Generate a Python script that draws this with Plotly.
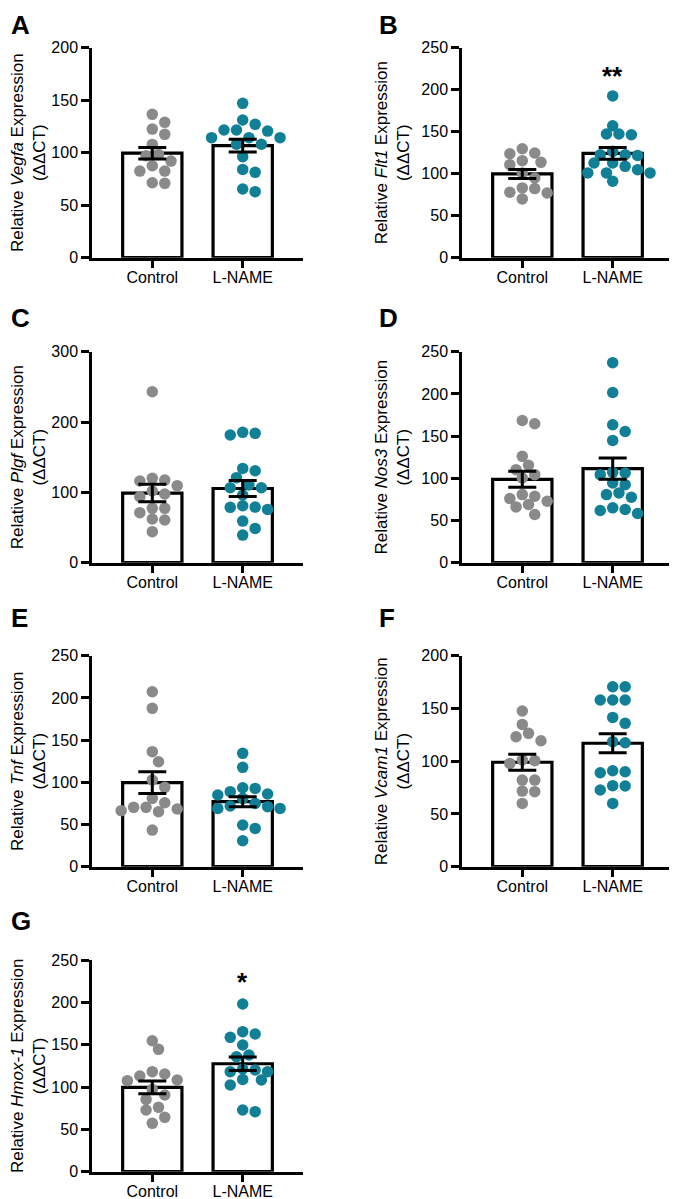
import plotly.graph_objects as go

W, H = 677, 1199

groups = ["Control", "L-NAME"]
letters = ["A", "B", "C", "D", "E", "F", "G"]
genes = ["Vegfa", "Flt1", "Plgf", "Nos3", "Tnf", "Vcam1", "Hmox-1"]
y_max = [200, 250, 300, 250, 250, 200, 250]
y_step = [50, 50, 100, 50, 50, 50, 50]
stars = ["", "**", "", "", "", "", "*"]
star_y = [0, 220, 0, 0, 0, 0, 228]

# individual animals
vegfa_ctrl = [136.5, 128.9, 122.5, 117.5, 107.9, 97.1, 98.4, 92, 87.6, 82.5, 82.5, 70.8, 71.4]
vegfa_lname = [147, 131.1, 121.6, 120.6, 127, 121.6, 114.3, 114.3, 108, 114.3, 108, 96.2, 81.3, 84.1, 62.9, 65.4]
flt1_ctrl = [115.5, 123.8, 129.7, 124.6, 113.5, 110.8, 94.9, 83.1, 77.1, 77.9, 82.3, 70, 100.9]
flt1_lname = [192.6, 157, 147.2, 147.2, 146.4, 126.6, 121.8, 122.6, 122.6, 108.8, 112.7, 112.7,
              104.8, 100.9, 100.9, 100.9, 91]
plgf_ctrl = [243.1, 117.5, 119.9, 109.5, 116.1, 97.6, 93.8, 101.9, 77.3, 77.3, 71.1, 62.1, 60.7, 44.1]
plgf_lname = [183.9, 181.5, 185.3, 134.1, 130.8, 120.9, 106.6, 106.6, 96.2, 110.4, 75.8, 81, 78.7,
              79.1, 59.2, 48.8, 39.3]
nos3_ctrl = [164.6, 168.5, 126, 110.2, 115.4, 104.3, 100.4, 80.7, 78.7, 68.9, 66.1, 72.8, 57.1, 76]
nos3_lname = [237, 201.6, 155.5, 163.4, 144.9, 104.3, 106.3, 107.1, 94.5, 92.5, 82.7, 77.6, 80.7,
              58.3, 65, 61.8, 63]
tnf_ctrl = [207.3, 187.6, 136.3, 124.4, 102.7, 94, 81, 70.3, 66.4, 70.3, 75.8, 65.2, 68.3, 43.4]
tnf_lname = [134.3, 117.7, 92.8, 93.6, 84.9, 86.1, 88.9, 71.1, 69.1, 81, 69.1, 71.9, 75, 49.4, 45.4, 30.8]
vcam1_ctrl = [147.6, 134.9, 126.4, 119.4, 123.2, 101.1, 97.9, 100.5, 82.1, 82.1, 71.7, 71.1, 60]
vcam1_lname = [170.6, 170.6, 158, 158, 158, 141.5, 135.9, 117.5, 118.5, 90, 91, 89.1, 76.5, 76.8, 72.7, 60]
hmox1_ctrl = [154.7, 144.5, 118.1, 107.5, 113, 115.4, 108.3, 97.2, 85.4, 90.6, 72.8, 76, 64.2, 57.1]
hmox1_lname = [198, 165.4, 162.6, 158.7, 149.6, 137.8, 135.8, 121.3, 118.1, 120.1, 118.1, 108.3, 109,
               102.4, 70.9, 72.8]

# bar heights (mean) and SEM, control / L-NAME
means = [[99.5, 106.7], [99.7, 124.3], [99, 105.5], [98.8, 111.5],
         [99.6, 77], [99, 117], [99.5, 127.5]]
sems = [[5.5, 6], [5.3, 7], [12.5, 11.5], [9.5, 12.5],
        [12.8, 6], [7.5, 9], [7.5, 8]]

points = [(vegfa_ctrl, vegfa_lname), (flt1_ctrl, flt1_lname), (plgf_ctrl, plgf_lname),
          (nos3_ctrl, nos3_lname), (tnf_ctrl, tnf_lname), (vcam1_ctrl, vcam1_lname),
          (hmox1_ctrl, hmox1_lname)]

GRAY = "#8a8a8a"
TEAL = "#117f95"
FONT = "Liberation Sans, Arial, sans-serif"

# layout in window pixels; the page body adds an 8 px offset, so take it off here
OFF = 8
col_x = [(92, 303), (462, 673)]
row_y = [(47.7, 257.7), (351.7, 562.7), (655.7, 866.7), (960, 1171.7)]
label_y = [25, 318, 618, 921]
label_x = [8.5, 377]
PX_PER_CAT = 90.0


def swarm(values, px_per_unit, step=6.2, dmin=10.2):
    order = sorted(range(len(values)), key=lambda i: -values[i])
    cands = [0.0]
    for k in range(1, 30):
        cands += [k * step, -k * step]
    placed = []
    offs = [0.0] * len(values)
    for i in order:
        y = values[i] * px_per_unit
        for c in cands:
            if all((c - px) ** 2 + (y - py) ** 2 >= dmin ** 2 for px, py in placed):
                break
        placed.append((c, y))
        offs[i] = c / PX_PER_CAT
    return offs


fig = go.Figure()
annotations = []

for p in range(7):
    row, col = p // 2, p % 2
    ax = "" if p == 0 else str(p + 1)
    xref, yref = "x" + ax, "y" + ax
    x0, x1 = col_x[col][0] - OFF, col_x[col][1] - OFF
    top, bottom = row_y[row][0] - OFF, row_y[row][1] - OFF
    px_unit = (bottom - top) / y_max[p]

    fig.add_trace(go.Bar(
        x=[0, 1], y=means[p], width=0.656, xaxis=xref, yaxis=yref,
        marker=dict(color="white", line=dict(color="black", width=3.2)),
        showlegend=False, hoverinfo="skip",
    ))
    for g, color in enumerate([GRAY, TEAL]):
        vals = points[p][g]
        offs = swarm(vals, px_unit)
        fig.add_trace(go.Scatter(
            x=[g + o for o in offs], y=vals, mode="markers", xaxis=xref, yaxis=yref,
            marker=dict(color=color, size=11.5, line=dict(width=0)),
            cliponaxis=False, showlegend=False, hoverinfo="skip",
        ))
    fig.add_trace(go.Scatter(
        x=[0, 1], y=means[p], mode="markers", xaxis=xref, yaxis=yref,
        marker=dict(size=1, opacity=0),
        error_y=dict(type="data", array=sems[p], color="black", thickness=3, width=14),
        showlegend=False, hoverinfo="skip",
    ))

    axis_common = dict(showline=True, linecolor="black", linewidth=2.5, ticks="outside",
                       ticklen=8, tickwidth=2.5, tickcolor="black", showgrid=False,
                       zeroline=False, automargin=False,
                       tickfont=dict(size=16, color="black", family=FONT))
    fig.update_layout(**{
        "xaxis" + ax: dict(domain=[x0 / W, x1 / W], range=[-0.667, 1.667], anchor=yref,
                           tickvals=[0, 1], ticktext=groups, fixedrange=True,
                           ticklabelstandoff=-5, **axis_common),
        "yaxis" + ax: dict(domain=[1 - bottom / H, 1 - top / H], range=[0, y_max[p]], anchor=xref,
                           tickvals=list(range(0, y_max[p] + 1, y_step[p])), fixedrange=True,
                           title=dict(text=f"Relative <i>{genes[p]}</i> Expression<br>(ΔΔCT)",
                                      font=dict(size=17, color="black", family=FONT), standoff=8),
                           **axis_common),
    })

    annotations.append(dict(text=f"<b>{letters[p]}</b>", xref="paper", yref="paper",
                            x=(label_x[col] - OFF) / W, y=1 - (label_y[row] - OFF) / H,
                            xanchor="left", yanchor="middle", showarrow=False,
                            font=dict(size=26, color="black", family=FONT)))
    if stars[p]:
        annotations.append(dict(text=f"<b>{stars[p]}</b>", xref=xref, yref=yref, x=1, y=star_y[p],
                                yanchor="middle", yshift=-3, showarrow=False,
                                font=dict(size=26, color="black", family=FONT)))

fig.update_layout(width=W, height=H, margin=dict(l=0, r=0, t=0, b=0, autoexpand=False),
                  paper_bgcolor="white", plot_bgcolor="white",
                  font=dict(family=FONT, color="black"), annotations=annotations,
                  barmode="overlay")

fig.write_html("out.html")
